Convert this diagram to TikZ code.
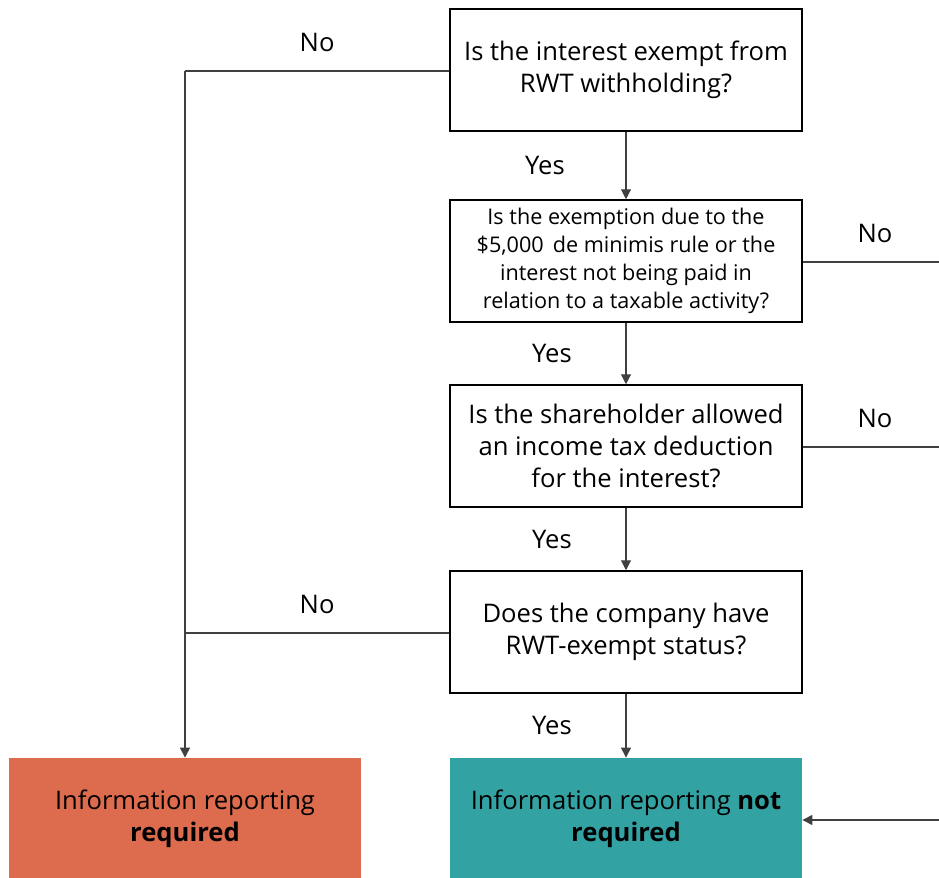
\documentclass[tikz,border=0pt]{standalone}
\usepackage{fontspec}
\setmainfont{Open Sans}
\usetikzlibrary{positioning,arrows.meta}
\definecolor{redbox}{HTML}{DD6B4D}
\definecolor{tealbox}{HTML}{33A2A3}
\definecolor{linegray}{HTML}{404040}

\begin{document}
\begin{tikzpicture}[>={Triangle[length=5pt,width=5pt]}, x=0.5pt, y=-0.5pt,
  question/.style={draw=black, line width=0.75pt, minimum width=176pt, minimum height=61pt,
    align=center, inner sep=2pt, font=\fontsize{12.8}{16}\selectfont},
  smallq/.style={question, font=\fontsize{10.8}{14}\selectfont},
  outcome/.style={minimum width=176pt, minimum height=61pt, align=center,
    font=\fontsize{12.8}{16}\selectfont},
  lbl/.style={font=\fontsize{12.8}{16}\selectfont},
  conn/.style={draw=linegray, line width=0.55pt}]
  \useasboundingbox (0,0) rectangle (939,878);

  \node[question] (q1) at (626,70) {Is the interest exempt from\\RWT withholding?};
  \node[smallq] (q2) at (626,261) {Is the exemption due to the\\\$5,000\, de minimis rule or the\\interest not being paid in\\relation to a taxable activity?};
  \node[question] (q3) at (626,446) {Is the shareholder allowed\\an income tax deduction\\for the interest?};
  \node[question] (q4) at (626,632) {Does the company have\\RWT-exempt status?};
  \node[outcome, fill=redbox] (req) at (185,819) {Information reporting\\\textbf{required}};
  \node[outcome, fill=tealbox] (notreq) at (626,819) {Information reporting \textbf{not}\\\textbf{required}};

  \coordinate (jtop) at (185,71);
  \coordinate (jmid) at (185,633);
  \coordinate (e2) at (939,262);
  \coordinate (e3) at (939,447);
  \coordinate (e4) at (939,820);

  % yes path
  \draw[conn,->] (q1) -- node[lbl, left=27pt] {Yes} (q2);
  \draw[conn,->] (q2) -- node[lbl, left=23.5pt] {Yes} (q3);
  \draw[conn,->] (q3) -- node[lbl, left=23.5pt] {Yes} (q4);
  \draw[conn,->] (q4) -- node[lbl, left=23.5pt] {Yes} (notreq);

  % no paths
  \draw[conn] (q1.west |- jtop) -- node[lbl, above=6pt] {No} (jtop);
  \draw[conn,->] (jtop) -- (req);
  \draw[conn] (q4.west |- jmid) -- node[lbl, above=6pt] {No} (jmid);
  \draw[conn] (q2.east |- e2) -- node[lbl, above=6pt, pos=0.53] {No} (e2);
  \draw[conn] (q3.east |- e3) -- node[lbl, above=6pt, pos=0.53] {No} (e3);
  \draw[conn,->] (e4) -- (notreq.east |- e4);
\end{tikzpicture}
\end{document}
